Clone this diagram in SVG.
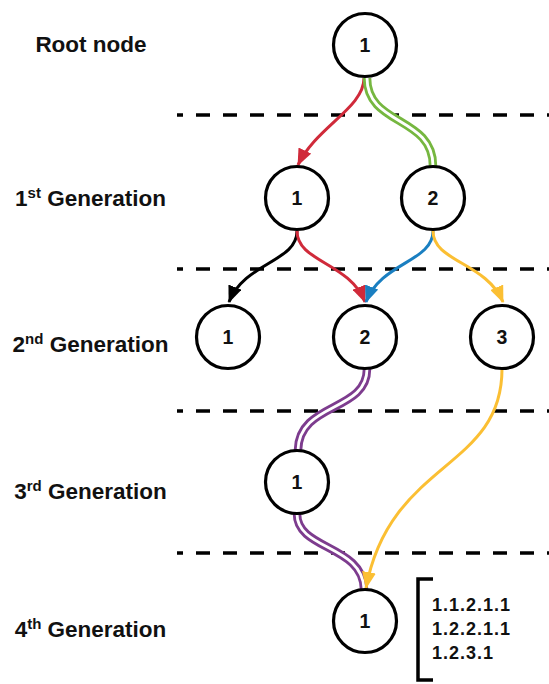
<svg xmlns="http://www.w3.org/2000/svg" width="549" height="684" viewBox="0 0 549 684">
  <style>
    .node circle { fill: #ffffff; stroke: #000000; stroke-width: 3.2; }
    .node text { font-family: "Liberation Sans", Arial, sans-serif; font-weight: bold; font-size: 19.5px; text-anchor: middle; fill: #111111; }
    .label { font-family: "Liberation Sans", Arial, sans-serif; font-weight: bold; font-size: 22.5px; text-anchor: middle; fill: #111111; }
    .sup { font-size: 15px; }
    .sep { stroke: #000000; stroke-width: 3.5; stroke-dasharray: 14 13; stroke-dashoffset: 8; fill: none; }
    .edge { fill: none; stroke-width: 3; }
    .dbl-out { fill: none; stroke-width: 8.5; }
    .dbl-in { fill: none; stroke: #ffffff; stroke-width: 2.8; }
    .paths { font-family: "Liberation Sans", Arial, sans-serif; font-weight: bold; font-size: 18px; letter-spacing: 1px; fill: #111111; }
  </style>
  <defs>
    <marker id="arr-red" markerUnits="userSpaceOnUse" markerWidth="17" markerHeight="14" refX="16" refY="7" orient="auto"><path d="M0,0 L17,7 L0,14 z" fill="#d02a3a"/></marker>
    <marker id="arr-black" markerUnits="userSpaceOnUse" markerWidth="17" markerHeight="14" refX="16" refY="7" orient="auto"><path d="M0,0 L17,7 L0,14 z" fill="#000000"/></marker>
    <marker id="arr-blue" markerUnits="userSpaceOnUse" markerWidth="17" markerHeight="14" refX="16" refY="7" orient="auto"><path d="M0,0 L17,7 L0,14 z" fill="#1a7fc1"/></marker>
    <marker id="arr-yellow" markerUnits="userSpaceOnUse" markerWidth="17" markerHeight="14" refX="16" refY="7" orient="auto"><path d="M0,0 L17,7 L0,14 z" fill="#fbbf33"/></marker>
  </defs>

  <!-- generation labels -->
  <g id="labels">
    <text class="label" x="91" y="52">Root node</text>
    <text class="label" x="90.5" y="206">1<tspan class="sup" dy="-8">st</tspan><tspan dy="8"> Generation</tspan></text>
    <text class="label" x="90.5" y="352">2<tspan class="sup" dy="-8">nd</tspan><tspan dy="8"> Generation</tspan></text>
    <text class="label" x="90.5" y="499">3<tspan class="sup" dy="-8">rd</tspan><tspan dy="8"> Generation</tspan></text>
    <text class="label" x="90.5" y="637">4<tspan class="sup" dy="-8">th</tspan><tspan dy="8"> Generation</tspan></text>
  </g>

  <!-- dashed separators between generations -->
  <g id="separators">
    <line class="sep" x1="177" y1="115" x2="549" y2="115"/>
    <line class="sep" x1="177" y1="269" x2="549" y2="269"/>
    <line class="sep" x1="177" y1="411" x2="549" y2="411"/>
    <line class="sep" x1="177" y1="553" x2="549" y2="553"/>
  </g>

  <!-- connectors -->
  <g id="connectors">
    <!-- root to 1st generation -->
    <path class="edge" stroke="#d02a3a" marker-end="url(#arr-red)" d="M364,78 C364,108 316,127 298,165"/>
    <path class="dbl-out" stroke="#76b740" d="M367,78 C367,126 433,116 433,166"/>
    <path class="dbl-in" d="M367,78 C367,126 433,116 433,166"/>
    <!-- 1st to 2nd generation -->
    <path class="edge" stroke="#000000" marker-end="url(#arr-black)" d="M297,231 C297,262 245,262 229,302"/>
    <path class="edge" stroke="#d02a3a" marker-end="url(#arr-red)" d="M297,231 C297,262 349,262 365,302"/>
    <path class="edge" stroke="#1a7fc1" marker-end="url(#arr-blue)" d="M433,231 C433,262 381,262 366,302"/>
    <path class="edge" stroke="#fbbf33" marker-end="url(#arr-yellow)" d="M433,231 C433,262 486,262 503,302"/>
    <!-- 2nd to 3rd generation -->
    <path class="dbl-out" stroke="#7d3c8e" d="M367,369 C367,412 299,402 298,450"/>
    <path class="dbl-in" d="M367,369 C367,412 299,402 298,450"/>
    <!-- 3rd to 4th generation -->
    <path class="dbl-out" stroke="#7d3c8e" d="M297,514 C297,550 363,545 364,589"/>
    <path class="dbl-in" d="M297,514 C297,550 363,545 364,589"/>
    <!-- 2nd generation node 3 to 4th generation -->
    <path class="edge" stroke="#fbbf33" marker-end="url(#arr-yellow)" d="M502,369 C502,470 390,460 366,588"/>
  </g>

  <!-- nodes -->
  <g id="root" class="node"><circle cx="365" cy="45" r="31.5"/><text x="365" y="52">1</text></g>
  <g id="g1-1" class="node"><circle cx="297" cy="198" r="31.5"/><text x="297" y="205">1</text></g>
  <g id="g1-2" class="node"><circle cx="433" cy="198" r="31.5"/><text x="433" y="205">2</text></g>
  <g id="g2-1" class="node"><circle cx="228" cy="337" r="31.5"/><text x="228" y="344">1</text></g>
  <g id="g2-2" class="node"><circle cx="365" cy="337" r="31.5"/><text x="365" y="344">2</text></g>
  <g id="g2-3" class="node"><circle cx="502" cy="337" r="31.5"/><text x="502" y="344">3</text></g>
  <g id="g3-1" class="node"><circle cx="297" cy="482" r="31.5"/><text x="297" y="489">1</text></g>
  <g id="g4-1" class="node"><circle cx="365" cy="621" r="31.5"/><text x="365" y="628">1</text></g>

  <!-- paths reaching the 4th generation node -->
  <g id="path-list">
    <path d="M433,579 L418,579 L418,680 L433,680" fill="none" stroke="#000000" stroke-width="3.5"/>
    <text class="paths" x="432" y="611">1.1.2.1.1</text>
    <text class="paths" x="432" y="635">1.2.2.1.1</text>
    <text class="paths" x="432" y="659">1.2.3.1</text>
  </g>
</svg>
